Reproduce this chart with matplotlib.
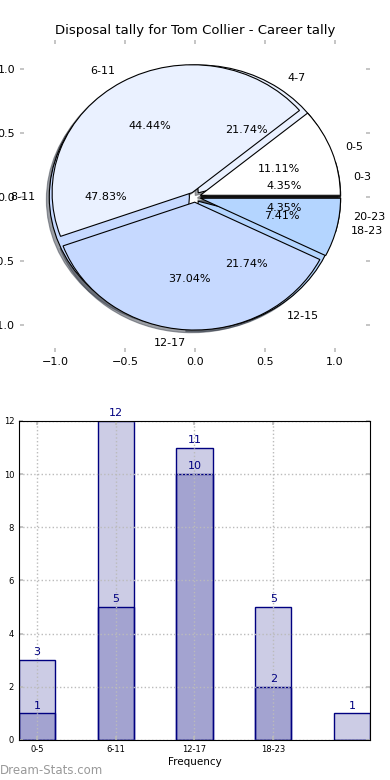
import matplotlib
matplotlib.use("Agg")
import matplotlib.pyplot as plt
import numpy as np

# ---- data ----
title = "Disposal tally for Tom Collier - Career tally"
pie_outer_labels = ["0-5", "6-11", "12-17", "18-23"]
pie_outer_values = [3, 12, 10, 2]
pie_inner_labels = ["0-3", "4-7", "8-11", "12-15", "20-23"]
pie_inner_values = [1, 5, 11, 5, 1]

bar_categories = ["0-5", "6-11", "12-17", "18-23", ""]
bar_total = [3, 12, 11, 5, 1]
bar_part = [1, 5, 10, 2, 0]
pie_ticks = [-1.0, -0.5, 0.0, 0.5, 1.0]
bar_yticks = [0, 2, 4, 6, 8, 10, 12]

outer_colors = ["#ffffff", "#eaf1ff", "#c6d9ff", "#b4d5ff"]
inner_colors = ["#ffffff", "#eaf1ff", "#c6d9ff", "#b4d5ff", "#ffffff"]

fig = plt.figure(figsize=(3.9, 7.8), dpi=100)

# ---- pie axes ----
ax1 = fig.add_axes([0.051, 0.549, 0.898, 0.40])
wp = dict(edgecolor="black", linewidth=0.8)
tp = dict(fontsize=8)
ax1.pie(pie_inner_values, labels=pie_inner_labels, colors=inner_colors,
        explode=[0.04] * len(pie_inner_values), autopct="%.2f%%",
        shadow=dict(ox=-0.015, oy=-0.015), startangle=0, wedgeprops=wp,
        textprops=tp, frame=True)
ax1.pie(pie_outer_values, labels=pie_outer_labels, colors=outer_colors,
        explode=[0.04] * len(pie_outer_values), autopct="%.2f%%",
        shadow=dict(ox=-0.015, oy=-0.015), startangle=0, wedgeprops=wp,
        textprops=tp, frame=True)
ax1.set_aspect("auto")
ax1.set_xlim(-1.25, 1.25)
ax1.set_ylim(-1.21, 1.23)
ax1.set_xticks(pie_ticks)
ax1.set_yticks(pie_ticks)
for s in ax1.spines.values():
    s.set_visible(False)
ax1.tick_params(direction="in", top=True, right=True, color="#bbbbbb",
                labelsize=8, length=3, width=1.2)
ax1.set_title(title, fontsize=9.5, pad=4)

# ---- bar axes ----
ax2 = fig.add_axes([0.0487, 0.0513, 0.9, 0.409])
x = np.arange(len(bar_categories))
w = 0.46
face = (0, 0, 0.5, 0.2)
ax2.bar(x, bar_total, width=w, color=face, edgecolor="navy", linewidth=1)
ax2.bar(x, bar_part, width=w, color=face, edgecolor="navy", linewidth=1)
for xi, v in zip(x, bar_total):
    if v > 0:
        ax2.annotate(str(v), (xi, v), xytext=(0, 2), textcoords="offset points",
                     ha="center", va="bottom", color="navy", fontsize=8)
for xi, v in zip(x, bar_part):
    if v > 0:
        ax2.annotate(str(v), (xi, v), xytext=(0, 2), textcoords="offset points",
                     ha="center", va="bottom", color="navy", fontsize=8)
ax2.set_xlim(-w / 2, len(x) - 1 + w / 2)
ax2.set_ylim(0, 12)
ax2.set_xticks(x[:4])
ax2.set_xticklabels(bar_categories[:4])
ax2.set_yticks(bar_yticks)
ax2.tick_params(direction="in", top=True, right=True, color="#bbbbbb",
                labelsize=6, length=3, width=1.2)
ax2.grid(True, linestyle=":", color="#bbbbbb", linewidth=1)
ax2.set_axisbelow(False)
for s in ax2.spines.values():
    s.set_zorder(5)
ax2.set_xlabel("Frequency", fontsize=7.5, labelpad=2)
ax2.set_ylabel("Disposal Tally", fontsize=7.5)

fig.text(0.0, 0.0128, "Dream-Stats.com", color="#999999", fontsize=8.5,
         va="center", ha="left")

fig.savefig("out.png", dpi=100)
